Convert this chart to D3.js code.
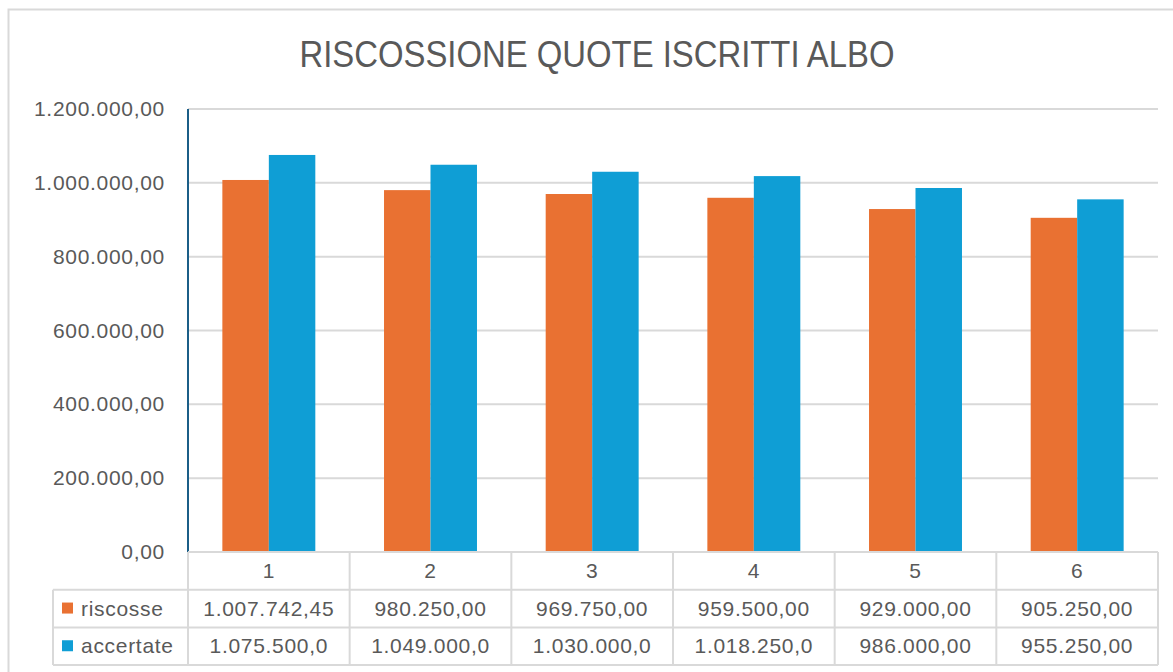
<!DOCTYPE html>
<html>
<head>
    <meta charset="UTF-8">
    <title>Riscossione quote iscritti albo</title>
    <style>
        body {
            margin: 0;
            padding: 0;
            background: #ffffff;
            font-family: "Liberation Sans", Arial, sans-serif;
        }
        .grid line {
            stroke: #d9d9d9;
            stroke-width: 2px;
        }
        .tick-label, .cell-text {
            fill: #595959;
            font-size: 21px;
            letter-spacing: 0.7px;
        }
    </style>
    <script src="https://d3js.org/d3.v7.min.js"></script>
</head>
<body>
    <div id="chart"></div>

    <script>
        var categories = ["1", "2", "3", "4", "5", "6"];
        var riscosse = [1007742.45, 980250, 969750, 959500, 929000, 905250];
        var accertate = [1075500, 1049000, 1030000, 1018250, 986000, 955250];
        var riscosseLabels = ["1.007.742,45", "980.250,00", "969.750,00", "959.500,00", "929.000,00", "905.250,00"];
        var accertateLabels = ["1.075.500,0", "1.049.000,0", "1.030.000,0", "1.018.250,0", "986.000,00", "955.250,00"];
        var yTicks = [0, 200000, 400000, 600000, 800000, 1000000, 1200000];
        var yTickLabels = ["0,00", "200.000,00", "400.000,00", "600.000,00", "800.000,00", "1.000.000,00", "1.200.000,00"];

        var series = [
            {name: "riscosse", values: riscosse, labels: riscosseLabels, color: "#e97132"},
            {name: "accertate", values: accertate, labels: accertateLabels, color: "#0f9ed5"}
        ];

        var W = 1173, H = 672;
        var plotLeft = 188, plotRight = 1158, plotTop = 109, plotBottom = 552;
        var rowH = 37.7;
        var legendLeft = 53;

        var svg = d3.select("#chart").append("svg")
            .attr("width", W)
            .attr("height", H);

        // outer chart frame
        svg.append("rect")
            .attr("x", 8.5).attr("y", 9.5)
            .attr("width", W + 20).attr("height", H + 20)
            .attr("fill", "white")
            .attr("stroke", "#d9d9d9")
            .attr("stroke-width", 2);

        svg.append("text")
            .attr("x", 597).attr("y", 67)
            .attr("text-anchor", "middle")
            .attr("fill", "#595959")
            .attr("textLength", 595)
            .attr("lengthAdjust", "spacingAndGlyphs")
            .style("font-size", "37px")
            .text("RISCOSSIONE QUOTE ISCRITTI ALBO");

        var x = d3.scaleBand().domain(categories).range([plotLeft, plotRight]);
        var y = d3.scaleLinear().domain([0, 1200000]).range([plotBottom, plotTop]);

        var groupW = x.bandwidth() * 0.575;
        var x1 = d3.scaleBand().domain(series.map(function(s) { return s.name; }))
            .range([0, groupW]);

        // gridlines
        svg.append("g").attr("class", "grid")
            .selectAll("line")
            .data(yTicks.slice(1))
            .enter().append("line")
            .attr("x1", plotLeft).attr("x2", plotRight)
            .attr("y1", function(d) { return y(d); })
            .attr("y2", function(d) { return y(d); });

        // y tick labels
        svg.append("g")
            .selectAll("text")
            .data(yTicks)
            .enter().append("text")
            .attr("class", "tick-label")
            .attr("x", 165)
            .attr("y", function(d) { return y(d) + 7; })
            .attr("text-anchor", "end")
            .text(function(d, i) { return yTickLabels[i]; });

        // bars
        series.forEach(function(s) {
            svg.append("g")
                .selectAll("rect")
                .data(s.values)
                .enter().append("rect")
                .attr("x", function(d, i) {
                    return x(categories[i]) + (x.bandwidth() - groupW) / 2 + x1(s.name);
                })
                .attr("width", x1.bandwidth())
                .attr("y", function(d) { return y(d); })
                .attr("height", function(d) { return plotBottom - y(d); })
                .attr("fill", s.color);
        });

        // y axis line
        svg.append("line")
            .attr("x1", plotLeft).attr("x2", plotLeft)
            .attr("y1", plotTop).attr("y2", plotBottom)
            .attr("stroke", "#1b5e87")
            .attr("stroke-width", 2);

        // data table
        var table = svg.append("g");
        var gridColor = "#d9d9d9";
        var tBottom = plotBottom + rowH * 3;

        table.append("line")
            .attr("x1", plotLeft).attr("x2", plotRight)
            .attr("y1", plotBottom).attr("y2", plotBottom)
            .attr("stroke", gridColor).attr("stroke-width", 2);
        [1, 2, 3].forEach(function(r) {
            table.append("line")
                .attr("x1", legendLeft).attr("x2", plotRight)
                .attr("y1", plotBottom + rowH * r).attr("y2", plotBottom + rowH * r)
                .attr("stroke", gridColor).attr("stroke-width", 2);
        });

        table.append("line")
            .attr("x1", legendLeft).attr("x2", legendLeft)
            .attr("y1", plotBottom + rowH).attr("y2", tBottom)
            .attr("stroke", gridColor).attr("stroke-width", 2);
        categories.forEach(function(c) {
            table.append("line")
                .attr("x1", x(c)).attr("x2", x(c))
                .attr("y1", plotBottom).attr("y2", tBottom)
                .attr("stroke", gridColor).attr("stroke-width", 2);
        });
        table.append("line")
            .attr("x1", plotRight).attr("x2", plotRight)
            .attr("y1", plotBottom).attr("y2", tBottom)
            .attr("stroke", gridColor).attr("stroke-width", 2);

        // header row
        table.selectAll(".cat")
            .data(categories)
            .enter().append("text")
            .attr("class", "cell-text")
            .attr("x", function(d) { return x(d) + x.bandwidth() / 2; })
            .attr("y", plotBottom + rowH / 2 + 7)
            .attr("text-anchor", "middle")
            .text(function(d) { return d; });

        // series rows
        series.forEach(function(s, r) {
            var rowY = plotBottom + rowH * (r + 1);
            table.append("rect")
                .attr("x", 62).attr("y", rowY + rowH / 2 - 6)
                .attr("width", 11).attr("height", 11)
                .attr("fill", s.color);
            table.append("text")
                .attr("class", "cell-text")
                .attr("x", 81).attr("y", rowY + rowH / 2 + 7)
                .text(s.name);
            table.append("g")
                .selectAll("text")
                .data(s.labels)
                .enter().append("text")
                .attr("class", "cell-text")
                .attr("x", function(d, i) { return x(categories[i]) + x.bandwidth() / 2; })
                .attr("y", rowY + rowH / 2 + 7)
                .attr("text-anchor", "middle")
                .text(function(d) { return d; });
        });
    </script>
</body>
</html>
